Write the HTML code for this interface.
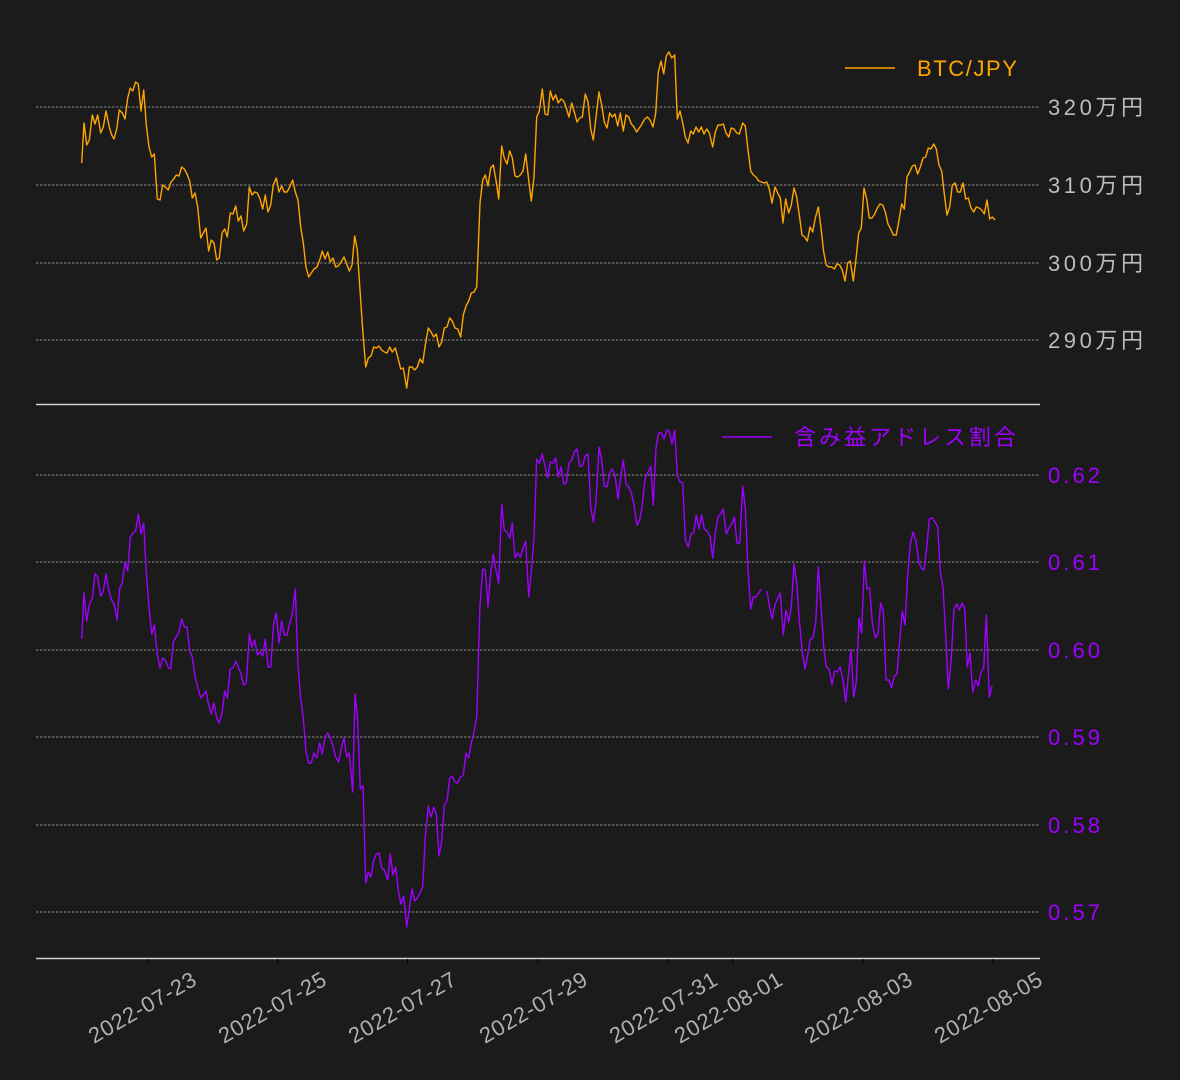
<!DOCTYPE html>
<html><head><meta charset="utf-8"><style>
html,body{margin:0;padding:0;background:#1b1b1b;}
svg{display:block;}
text{font-family:"Liberation Sans","Noto Sans CJK JP",sans-serif;}
</style></head><body>
<svg width="1180" height="1080" viewBox="0 0 1180 1080" xmlns="http://www.w3.org/2000/svg">
<rect width="1180" height="1080" fill="#1b1b1b"/>
<g stroke="#b0b0b0" stroke-width="0.7" stroke-dasharray="2.5,1.5">
<line x1="36" y1="107" x2="1040" y2="107"/><line x1="36" y1="185" x2="1040" y2="185"/>
<line x1="36" y1="263" x2="1040" y2="263"/><line x1="36" y1="340" x2="1040" y2="340"/>
<line x1="36" y1="475" x2="1040" y2="475"/><line x1="36" y1="562" x2="1040" y2="562"/>
<line x1="36" y1="650" x2="1040" y2="650"/><line x1="36" y1="737" x2="1040" y2="737"/>
<line x1="36" y1="825" x2="1040" y2="825"/><line x1="36" y1="912" x2="1040" y2="912"/>
</g>
<line x1="36" y1="404.5" x2="1040" y2="404.5" stroke="#d0d0d0" stroke-width="1.6"/>
<line x1="36" y1="958.5" x2="1040" y2="958.5" stroke="#d0d0d0" stroke-width="1.6"/>
<g stroke="#000" stroke-width="1">
<line x1="147.5" y1="959" x2="147.5" y2="963"/><line x1="277.5" y1="959" x2="277.5" y2="963"/>
<line x1="407.5" y1="959" x2="407.5" y2="963"/><line x1="538" y1="959" x2="538" y2="963"/>
<line x1="668" y1="959" x2="668" y2="963"/><line x1="733" y1="959" x2="733" y2="963"/>
<line x1="863" y1="959" x2="863" y2="963"/><line x1="993" y1="959" x2="993" y2="963"/>
</g>
<polyline fill="none" stroke="#ffa500" stroke-width="1.4" stroke-linejoin="round" points="81.7,163 84,123 86.7,145 89.3,140 92.3,115 95,124 97.7,115 100.7,133 103.3,127 106,111 109.3,127 111.7,135 114,139 116.7,129 119.3,110 122.3,113 125,119 127.7,98 130.3,88 132.7,91 135.7,82 138.3,84 141,111 143.7,90 146.3,125 149,147 151.7,157 154.3,154 157.3,199 160,200 162.7,185 165.3,187 168.3,190 171,182 173.7,179 176.3,175 179,176 181.7,167 184.3,169 187,174 189.7,181 192.3,198 195,193 197.7,207 200.7,238 203.3,233 206,228 208.7,251 211.3,240 214,243 216.7,260 219.3,258 222,233 224.7,229 227.3,237 230.3,213 233,214 235.7,206 238.3,221 241,216 243.7,231 246.7,224 249.3,187 252,195 254.7,192 257.3,193 260,199 262.7,209 265.3,195 268,212 270.7,205 273.3,185 276.3,178 279,192 281.7,186 284.3,192 287,192 289.7,187 292.7,180 295.3,192 298,200 300.7,227 303.3,243 306,267 308.7,277 311.3,273 314,269 317,267 319.7,260 322.3,251 325,259 327.7,252 330.3,262 333,258 335.7,267 338.3,266 341,262 344,257 346.7,264 349.3,271 352,265 354.7,236 357.3,250 360,290 362.7,330 365.7,367 368.3,358 371,356 373.7,347 376.3,348 379,346 381.7,350 384.3,352 387,353 389.7,347 392.3,352 395.3,348 398,358 400.7,369 403.3,368 406.7,388 409.3,367 412,367 414.7,370 417.3,367 420,359 422.7,363 425.3,345 428.3,328 431,332 433.7,337 436.3,334 439,347 441.7,342 444.3,328 447,327 449.7,318 452.3,321 455,328 457.7,329 460.7,337 463.3,315 466,306 468.7,301 471.3,293 474,292 476.7,287 480,203 482.7,180 485.3,175 488,186 490.7,168 493.3,165 496,180 498.7,199 501.7,146 504.3,158 507,164 509.7,151 512.3,158 515,176 517.7,177 520.3,175 523,171 525.7,154 528.7,180 531.3,201 534,177 536.7,117 539.3,111 542.3,89 545,114 547.7,115 550.3,91 553,100 555.7,95 558.3,103 561,99 563.7,101 566.3,108 569,117 571.7,103 574.3,112 577,122 579.7,118 582.3,117 585.3,94 588,102 590.7,129 593.3,140 596,117 599,92 601.7,105 604.3,122 607,128 609.7,113 612.3,117 615,114 617.7,126 620.3,113 623.3,131 626,115 628.7,117 631.3,124 634,127 636.7,132 639.3,128 642,124 644.7,119 647.3,117 650,120 653,127 655.7,113 658.3,72 661,61 663.7,74 666.3,56 669,52 671.7,58 674.7,55 677.3,119 680,111 682.7,123 685.3,137 688,143 690.7,131 693.3,134 696,127 698.7,132 701.3,127 704,134 706.7,129 709.3,133 712.7,147 715.3,132 718,125 720.7,125 723.3,124 726,133 728.7,137 731.3,128 734,129 736.7,133 739.3,134 742.7,123 745.3,126 748,150 750.7,171 753.3,175 756,177 758.7,181 761.3,182 764,183 766.7,182 769.3,189 772,203 775,187 777.7,193 780.3,198 783,223 785.7,199 788.7,213 791.3,205 794,188 796.7,197 799.3,215 802,235 804.7,237 807.3,241 810,227 812.7,232 815.3,218 818.3,207 821,228 823.7,252 826.3,265 829,267 831.7,267 834.3,269 837,264 839.7,265 842.3,270 845,281 847.7,263 850.3,261 853.3,281 856,259 858.7,233 861.3,228 864,188 866.7,199 869.3,218 872,218 874.7,214 877.3,208 880,204 882.7,205 885.3,212 888,224 890.7,229 893.3,235 896.3,235 899,220 901.7,204 904.3,209 907,177 909.7,172 912.3,166 915,165 917.7,174 920.3,167 923,158 925.7,157 928.3,148 931,149 933.7,144 936.3,149 939,165 941.7,171 944.3,194 947,215 949.7,207 952.3,185 955,183 957.7,192 960.3,192 963,183 965.7,199 968.3,198 971,208 973.7,212 976.3,207 979,208 981.7,210 984.3,214 987,200 989.7,219 992.3,217 995,220"/>
<polyline fill="none" stroke="#a000ff" stroke-width="1.4" stroke-linejoin="round" points="81.7,639 84,593 86.7,621 89.3,605 92.3,598 95,574 97.7,577 100.7,596 103.3,591 106,574 109,591 111.7,600 114.3,605 117,620 119.7,588 122.3,583 125,562 127.7,571 130.3,537 133,533 135.7,531 138.3,514 141,534 143.7,523 146.3,573 149,607 151.7,634 154.3,625 157.3,655 160,668 162.7,658 165.3,660 168,667 170.7,669 173.3,642 176,637 178.7,633 181.7,619 184.3,627 187,627 189.7,651 192.3,657 195,677 197.7,687 200.7,698 203.3,695 206,691 208.7,705 211.3,714 214,703 216.7,718 219.3,723 222,713 224.7,691 227.3,698 230.3,669 233,668 235.7,661 238.3,667 241,674 243.7,685 246.3,683 249.3,634 252,647 254.7,640 257.3,655 260,652 262.7,656 265.3,639 268,667 270.7,667 273.7,623 276.3,613 279,643 281.7,621 284.3,635 287,635 289.7,623 292.3,614 295.3,589 298,665 300.7,699 303.3,718 306,752 308.7,763 311.3,763 314,753 316.7,758 319.7,743 322.3,754 325,737 327.7,733 330.3,738 333,746 335.7,757 338.7,762 341.3,748 344,738 346.7,757 349.3,753 352.7,792 355,694 357.7,720 360.3,789 363,786 365.7,883 368.3,872 371,877 373.7,860 376.3,854 379,853 381.7,868 384.3,870 387.7,880 390.3,854 393,875 395.7,867 398.3,891 401,904 403.7,896 406.7,927 409.3,909 412,889 414.7,901 417.3,898 420,893 422.7,887 425.3,837 428.3,806 431,817 433.7,807 436.3,814 439,856 441.7,841 444.3,805 447,801 449.7,778 452.3,776 455,782 457.7,783 460.7,777 463.3,775 466,753 468.7,758 471.3,743 474,732 476.7,717 480,605 482.7,569 485.3,570 488,607 490.7,573 493.3,554 496,570 498.7,583 501.7,504 504.3,530 507,532 509.7,538 512.3,523 515,558 517.7,553 520.3,557 523,548 525.7,541 528.7,597 531.3,572 534,537 536.7,459 539.3,463 542.3,454 545,466 547.7,478 550.3,462 553,463 555.7,458 558.3,477 561,467 563.7,484 566.3,483 569,463 571.7,460 574.3,452 577,449 579.7,466 582.3,466 585.3,456 588,454 590.7,507 593.3,522 596,502 599,447 601.7,460 604.3,486 607,487 609.7,473 612.3,469 615,475 618,499 620.7,477 623.3,460 626,484 628.7,487 631.3,493 634,505 637,525 639.7,520 642.3,505 645,479 647.7,473 650.7,466 653.3,505 656,448 658.7,433 661.3,433 664,439 666.7,430 669.3,431 672,444 674.7,430 677.3,475 680,482 682.7,483 685.3,539 688.3,547 691,534 693.7,533 696.3,515 699,529 701.7,515 704.3,529 707,531 710,536 712.7,558 715.3,533 718,517 720.7,514 723.3,509 726.3,534 729,528 731.7,524 734.3,517 737,543 739.7,543 742.7,486 745.3,508 748,570 750.7,609 753.3,597 756,597 758.7,593 761.3,589"/>
<polyline fill="none" stroke="#a000ff" stroke-width="1.4" stroke-linejoin="round" points="767,591 769.7,608 772.3,619 775,605 777.7,598 780.3,593 783.3,635 786,610 788.7,622 791.3,607 794,564 796.7,583 799.3,620 802.3,652 805,669 807.7,655 810.3,639 813,638 815.7,623 818.3,567 821,605 823.7,647 826.3,667 829,669 832,685 834.7,671 837.3,672 840,667 842.7,678 845.7,702 848.3,676 851,650 853.7,697 856.3,682 859,618 861.7,633 864.3,561 867,589 869.7,588 872.3,623 875.3,638 878,634 880.7,603 883.3,611 886,680 888.7,680 891.7,688 894.3,676 897,674 899.7,641 902.3,611 905,625 907.7,575 910.3,544 913,532 916,541 918.7,562 921.3,568 924,570 926.7,548 929.3,519 932.3,518 935,522 937.7,527 940.3,572 943,587 945.7,635 948.3,689 951.3,658 954,609 956.7,604 959.3,610 962,603 964.7,608 967.3,667 970,653 972.7,692 975.7,680 978.3,686 981,672 983.7,668 986.3,615 989.3,697 992,686"/>
<g font-size="22" fill="#bdbdbd">
<text x="1048" y="115" textLength="95">320万円</text><text x="1048" y="193" textLength="95">310万円</text>
<text x="1048" y="271" textLength="95">300万円</text><text x="1048" y="348" textLength="95">290万円</text>
</g>
<g font-size="22" fill="#a000ff">
<text x="1048" y="483" textLength="52">0.62</text><text x="1048" y="570" textLength="52">0.61</text>
<text x="1048" y="658" textLength="52">0.60</text><text x="1048" y="745" textLength="52">0.59</text>
<text x="1048" y="833" textLength="52">0.58</text><text x="1048" y="920" textLength="52">0.57</text>
</g>
<line x1="845" y1="68" x2="895" y2="68" stroke="#ffa500" stroke-width="1.4"/>
<text x="917" y="76" font-size="22" fill="#ffa500" textLength="100">BTC/JPY</text>
<line x1="722" y1="437" x2="772" y2="437" stroke="#a000ff" stroke-width="1.4"/>
<text x="794" y="445" font-size="22" fill="#a000ff" textLength="222">含み益アドレス割合</text>
<g font-size="22" fill="#b0b0b0" text-anchor="middle">
<text transform="translate(146,1014) rotate(-30)" textLength="120">2022-07-23</text>
<text transform="translate(276,1014) rotate(-30)" textLength="120">2022-07-25</text>
<text transform="translate(406,1014) rotate(-30)" textLength="120">2022-07-27</text>
<text transform="translate(537,1014) rotate(-30)" textLength="120">2022-07-29</text>
<text transform="translate(667,1014) rotate(-30)" textLength="120">2022-07-31</text>
<text transform="translate(732,1014) rotate(-30)" textLength="120">2022-08-01</text>
<text transform="translate(862,1014) rotate(-30)" textLength="120">2022-08-03</text>
<text transform="translate(992,1014) rotate(-30)" textLength="120">2022-08-05</text>
</g>
</svg>
</body></html>
